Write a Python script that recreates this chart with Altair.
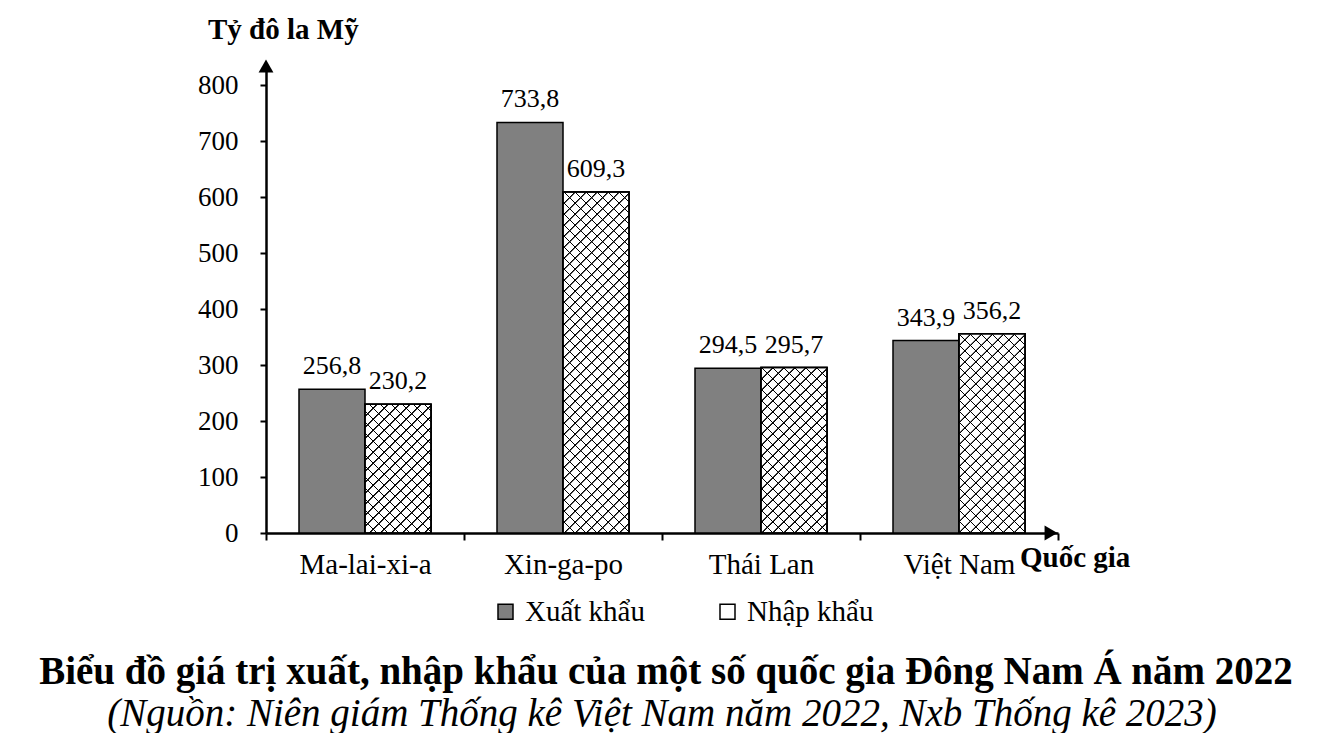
import altair as alt
import pandas as pd

countries = ["Ma-lai-xi-a", "Xin-ga-po", "Thái Lan", "Việt Nam"]
series_names = ["Xuất khẩu", "Nhập khẩu"]
export_vals = [256.8, 733.8, 294.5, 343.9]
import_vals = [230.2, 609.3, 295.7, 356.2]

y_label = "Tỷ đô la Mỹ"
x_label = "Quốc gia"
title_text = "Biểu đồ giá trị xuất, nhập khẩu của một số quốc gia Đông Nam Á năm 2022"
subtitle_text = "(Nguồn: Niên giám Thống kê Việt Nam năm 2022, Nxb Thống kê 2023)"

rows = []
for c, e, i in zip(countries, export_vals, import_vals):
    rows.append({"country": c, "series": series_names[0], "value": e})
    rows.append({"country": c, "series": series_names[1], "value": i})
df = pd.DataFrame(rows)
df["label"] = df["value"].map(lambda v: f"{v:.1f}".replace(".", ","))

FONT = "Liberation Serif"
W, H = 792, 470
YMAX = 840
PX = H / YMAX
BAR_W = 66.0


def stripes(h, w, period, thick, flip, bg):
    """Diagonal hatch pattern expressed as a linear gradient (bbox units)."""
    k = h / w
    denom = w * (1 + k * k)
    tmax = (w + h) / denom
    ramp = 0.6
    stops = []
    m = 0
    while True:
        t0 = m * period / denom
        if t0 > tmax + period / denom:
            break
        pts = [(t0, bg), (t0 + ramp / denom, "#000000"),
               (t0 + (ramp + thick) / denom, "#000000"),
               (t0 + (2 * ramp + thick) / denom, bg)]
        for t, col in pts:
            stops.append({"offset": min(t, 1.0), "color": col})
        m += 1
    if flip:
        return {"gradient": "linear", "x1": 0, "y1": 1, "x2": 1, "y2": 1 - k, "stops": stops}
    return {"gradient": "linear", "x1": 0, "y1": 0, "x2": 1, "y2": k, "stops": stops}


x_enc = alt.X("country:N", sort=countries,
              scale=alt.Scale(paddingInner=0, paddingOuter=0),
              axis=alt.Axis(title=None, labelAngle=0, tickBand="extent",
                            tickSize=7, tickWidth=2, tickColor="black",
                            domainColor="black", domainWidth=2.5,
                            labelFont=FONT, labelFontSize=29, labelColor="black",
                            labelPadding=10))
xoff_enc = alt.XOffset("series:N", sort=series_names,
                       scale=alt.Scale(paddingInner=0, paddingOuter=0.5))
y_enc = alt.Y("value:Q", scale=alt.Scale(domain=[0, YMAX], nice=False),
              axis=alt.Axis(title=None, values=list(range(0, 801, 100)), grid=False,
                            tickSize=6, tickWidth=2, tickColor="black",
                            domainColor="black", domainWidth=2.5,
                            labelFont=FONT, labelFontSize=27, labelColor="black",
                            labelPadding=22))

base = alt.Chart(df)

bars = base.mark_bar(stroke="black", strokeWidth=1.5).encode(
    x=x_enc, xOffset=xoff_enc, y=y_enc,
    color=alt.Color("series:N", sort=series_names,
                    scale=alt.Scale(domain=series_names, range=["#808080", "#ffffff"]),
                    legend=alt.Legend(title=None, orient="none", legendX=225, legendY=534,
                                      direction="horizontal", symbolType="square",
                                      symbolSize=225, symbolStrokeColor="black",
                                      symbolStrokeWidth=1.5, labelFont=FONT,
                                      labelFontSize=29, labelColor="black",
                                      labelOffset=5, columnPadding=68, padding=0)),
)

hatch_layers = []
for c, v in zip(countries, import_vals):
    h = v * PX
    sub = base.transform_filter(
        (alt.datum.country == c) & (alt.datum.series == series_names[1]))
    hatch_layers.append(sub.mark_bar(
        fill=stripes(h, BAR_W, 11.0, 1.1, False, "#ffffff"), stroke="black",
        strokeWidth=1.5).encode(x=x_enc, xOffset=xoff_enc, y=y_enc))
    hatch_layers.append(sub.mark_bar(
        fill=stripes(h, BAR_W, 11.0, 0.5, True, "rgba(0,0,0,0)"), stroke="black",
        strokeWidth=1.5).encode(x=x_enc, xOffset=xoff_enc, y=y_enc))

labels = base.mark_text(font=FONT, fontSize=26, baseline="bottom", dy=-10,
                        color="black").encode(
    x=x_enc, xOffset=xoff_enc, y=y_enc, text="label:N")

one = alt.Data(values=[{"a": 1}])

y_arrow = alt.Chart(one).mark_point(shape="triangle-up", filled=True, color="black",
                                    size=220, opacity=1).encode(
    x=alt.value(0), y=alt.value(3))
x_arrow = alt.Chart(one).mark_point(shape="triangle-right", filled=True, color="black",
                                    size=220, opacity=1).encode(
    x=alt.value(W - 7), y=alt.value(H))

y_title = alt.Chart(one).mark_text(text=y_label, font=FONT, fontSize=29, fontWeight="bold",
                                   align="left", baseline="middle", color="black").encode(
    x=alt.value(-58), y=alt.value(-33))
x_title = alt.Chart(one).mark_text(text=x_label, font=FONT, fontSize=29, fontWeight="bold",
                                   align="left", baseline="middle", color="black").encode(
    x=alt.value(754), y=alt.value(495))
main_title = alt.Chart(one).mark_text(text=title_text, font=FONT, fontSize=39,
                                      fontWeight="bold", align="center", baseline="middle",
                                      color="black").encode(
    x=alt.value(400), y=alt.value(609))
sub_title = alt.Chart(one).mark_text(text=subtitle_text, font=FONT, fontSize=39,
                                     fontStyle="italic", align="center", baseline="middle",
                                     color="black").encode(
    x=alt.value(396), y=alt.value(651))

chart = alt.layer(bars, *hatch_layers, labels, y_arrow, x_arrow, y_title, x_title,
                  main_title, sub_title).properties(
    width=W, height=H,
    autosize=alt.AutoSizeParams(type="none"),
    padding={"left": 258, "top": 55, "right": 251, "bottom": 200},
    view=alt.ViewBackground(stroke="transparent", strokeWidth=0),
).configure_view(stroke="transparent", strokeWidth=0).configure(background="white")

chart.save("out.html", embed_options={"renderer": "svg", "actions": False})
